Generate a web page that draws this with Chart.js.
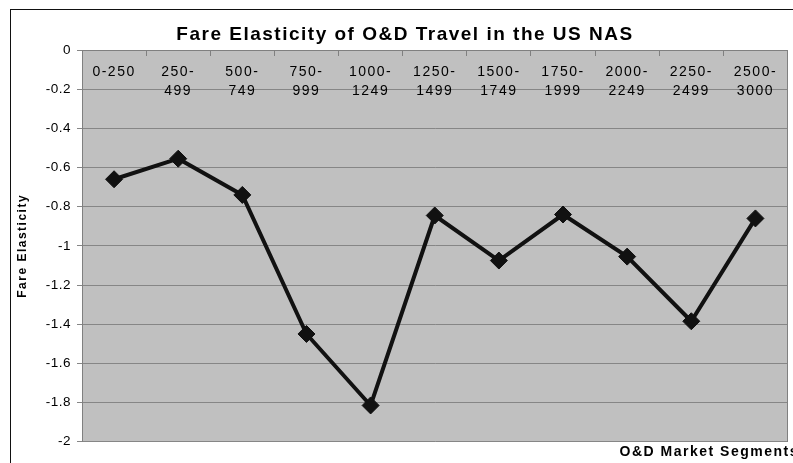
<!DOCTYPE html>
<html>
<head>
<meta charset="utf-8">
<title>Fare Elasticity of O&amp;D Travel in the US NAS</title>
<script src="https://cdn.jsdelivr.net/npm/chart.js@4.4.1/dist/chart.umd.min.js"></script>
<style>
  html, body { margin: 0; padding: 0; background: #fff; overflow: hidden; }
  body { width: 793px; height: 463px; position: relative; }
  #frame { position: absolute; left: 10px; top: 9px; border-left: 1px solid #111; border-top: 1px solid #111; }
  canvas { display: block; }
</style>
</head>
<body>
<div id="frame"><canvas id="chart" width="788" height="453"></canvas></div>
<script>
// Data
const segmentLabels = [
    ['0-250'], ['250-', '499'], ['500-', '749'], ['750-', '999'],
    ['1000-', '1249'], ['1250-', '1499'], ['1500-', '1749'], ['1750-', '1999'],
    ['2000-', '2249'], ['2250-', '2499'], ['2500-', '3000']
];
const elasticity = [-0.66, -0.555, -0.74, -1.45, -1.815, -0.845, -1.075, -0.84, -1.055, -1.385, -0.86];
const Y_MIN = -2;
const Y_MAX = 0;
const Y_STEP = 0.2;

// Styles
const FONT = '"Liberation Sans", Arial, sans-serif';
const PLOT_BG = '#c0c0c0';
const GRID = '#868686';
const AXIS = '#808080';
const INK = '#111111';

Chart.defaults.font.family = FONT;
Chart.defaults.color = '#000';

// Gray plot area + wider letter spacing like the original renderer
const plotStyle = {
    id: 'plotStyle',
    beforeDraw(chart) {
        const { ctx, chartArea: a } = chart;
        ctx.save();
        ctx.fillStyle = PLOT_BG;
        ctx.fillRect(a.left, a.top, a.right - a.left, a.bottom - a.top);
        ctx.restore();
        ctx.letterSpacing = '1.5px';
    },
    afterDatasetsDraw(chart) {
        // y tick labels are drawn after the datasets (ticks.z = 1)
        chart.ctx.letterSpacing = '0.5px';
    }
};

new Chart(document.getElementById('chart'), {
    type: 'line',
    data: {
        labels: segmentLabels,
        datasets: [{
            data: elasticity,
            borderColor: INK,
            borderWidth: 4,
            tension: 0,
            pointStyle: 'rectRot',
            pointRadius: 8.5,
            pointBackgroundColor: INK,
            pointBorderColor: INK,
            pointBorderWidth: 1,
            clip: false
        }]
    },
    options: {
        responsive: false,
        animation: false,
        layout: { padding: { left: 0, right: 0, top: 0, bottom: 0 } },
        plugins: {
            legend: { display: false },
            tooltip: { enabled: false },
            title: {
                display: true,
                text: 'Fare Elasticity of O&D Travel in the US NAS',
                color: '#000',
                font: { size: 19, weight: 'bold', lineHeight: 1.2 },
                padding: { top: 13, bottom: 4.2 }
            },
            subtitle: {
                display: true,
                text: 'O&D Market Segments',
                position: 'bottom',
                align: 'end',
                color: '#000',
                font: { size: 14, weight: 'bold', lineHeight: 1.2 },
                padding: { top: 2, bottom: 2.5 }
            }
        },
        scales: {
            x: {
                type: 'category',
                position: { y: 0 },
                offset: true,
                grid: {
                    offset: true,
                    drawOnChartArea: false,
                    drawTicks: true,
                    tickLength: 5,
                    color: AXIS
                },
                border: { display: true, color: AXIS },
                ticks: {
                    autoSkip: false,
                    maxRotation: 0,
                    minRotation: 0,
                    padding: 8,
                    color: '#000',
                    font: { size: 14, lineHeight: 1.36 },
                    z: 0
                },
                afterFit(scale) { scale.height = 0; }
            },
            y: {
                type: 'linear',
                position: 'left',
                min: Y_MIN,
                max: Y_MAX,
                grid: {
                    color: GRID,
                    lineWidth: 1,
                    drawTicks: true,
                    tickLength: 5
                },
                border: { display: true, color: AXIS },
                ticks: {
                    stepSize: Y_STEP,
                    padding: 6,
                    color: '#000',
                    font: { size: 13.5 },
                    z: 1,
                    callback: v => String(Math.round(v * 10) / 10)
                },
                title: {
                    display: true,
                    text: 'Fare Elasticity',
                    color: '#000',
                    font: { size: 12, weight: 'bold', lineHeight: 1.2 },
                    padding: { top: 4, bottom: 0 }
                },
                afterFit(scale) { scale.width = 71; }
            },
            yRight: {
                type: 'linear',
                position: 'right',
                min: Y_MIN,
                max: Y_MAX,
                grid: { display: false },
                border: { display: true, color: AXIS },
                ticks: { display: false },
                afterFit(scale) { scale.width = 11.5; }
            }
        }
    },
    plugins: [plotStyle]
});
</script>
</body>
</html>
